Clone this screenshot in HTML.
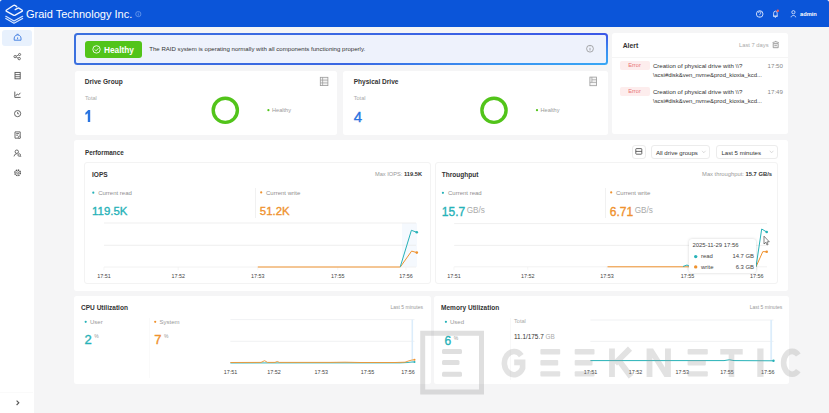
<!DOCTYPE html>
<html><head><meta charset="utf-8"><style>
html,body{margin:0;padding:0;width:829px;height:413px;overflow:hidden;background:#f5f5f6;font-family:"Liberation Sans", sans-serif;}
.t{position:absolute;white-space:nowrap;}
.sb{-webkit-text-stroke:0.35px currentColor;}
.r{position:absolute;}
.ov{position:absolute;left:0;top:0;}
</style></head><body>
<div class="r" style="left:0px;top:0px;width:3px;height:3px;background:#ffffff;border-radius:0px;"></div><div class="r" style="left:826px;top:0px;width:3px;height:3px;background:#ffffff;border-radius:0px;"></div><div class="r" style="left:0px;top:0px;width:829px;height:27.4px;background:#0b55d9;border-radius:0px;border-top-left-radius:2.5px;border-top-right-radius:2.5px;"></div><div class="t " style="left:26.0px;top:9.03px;font-size:11px;line-height:11px;color:#ffffff;font-weight:normal;">Graid Technology Inc.</div><div class="r" style="left:0px;top:27px;width:33.5px;height:386px;background:#ffffff;border-radius:0px;"></div><div class="r" style="left:2px;top:30px;width:30px;height:16px;background:#e8f1fd;border-radius:3px;"></div><div class="r" style="left:74.3px;top:33.2px;width:533.6px;height:31.7px;background:linear-gradient(#eef2fc,#eef2fc) padding-box, radial-gradient(260px 30px at 100% 100%, #38a8f5 0%, rgba(56,168,245,0.7) 45%, rgba(56,168,245,0) 100%) border-box, linear-gradient(to right, #3b70df, #3b66e3 60%, #3c58e7) border-box;border-radius:3.5px;box-sizing:border-box;border:2.6px solid transparent;"></div><div class="r" style="left:85.1px;top:41px;width:57.2px;height:17px;background:#52c41a;border-radius:3px;"></div><div class="t " style="left:104.0px;top:45.63px;font-size:8.3px;line-height:8.3px;color:#ffffff;font-weight:bold;">Healthy</div><div class="t " style="left:149.3px;top:46.29px;font-size:6.07px;line-height:6.07px;color:#333;font-weight:normal;">The RAID system is operating normally with all components functioning properly.</div><div class="r" style="left:74.5px;top:70.5px;width:262.5px;height:64px;background:#ffffff;border-radius:2.5px;"></div><div class="r" style="left:343px;top:70.5px;width:265px;height:64px;background:#ffffff;border-radius:2.5px;"></div><div class="r" style="left:612px;top:33.3px;width:176px;height:101px;background:#ffffff;border-radius:2.5px;"></div><div class="r" style="left:74px;top:140px;width:714px;height:151.3px;background:#ffffff;border-radius:2.5px;"></div><div class="r" style="left:74px;top:296.2px;width:356.8px;height:87.6px;background:#ffffff;border-radius:2.5px;"></div><div class="r" style="left:433.8px;top:296.2px;width:355px;height:87.6px;background:#ffffff;border-radius:2.5px;"></div><div class="t " style="left:84.8px;top:78.94px;font-size:6.55px;line-height:6.55px;color:#333333;font-weight:bold;">Drive Group</div><div class="t " style="left:85.0px;top:95.64px;font-size:5.6px;line-height:5.6px;color:#aaa;font-weight:normal;">Total</div><div class="t " style="left:272.0px;top:108.04px;font-size:5.6px;line-height:5.6px;color:#999;font-weight:normal;">Healthy</div><div class="t " style="left:353.7px;top:79.34px;font-size:6.55px;line-height:6.55px;color:#333333;font-weight:bold;">Physical Drive</div><div class="t " style="left:353.7px;top:95.64px;font-size:5.6px;line-height:5.6px;color:#aaa;font-weight:normal;">Total</div><div class="t sb" style="left:353.8px;top:109.25px;font-size:15.0px;line-height:15.0px;color:#2a74e0;font-weight:normal;">4</div><div class="t " style="left:540.5px;top:108.04px;font-size:5.6px;line-height:5.6px;color:#999;font-weight:normal;">Healthy</div><div class="t " style="left:622.7px;top:42.91px;font-size:6.8px;line-height:6.8px;color:#333333;font-weight:bold;">Alert</div><div class="t " style="right:60.4px;top:43.43px;font-size:5.8px;line-height:5.8px;color:#aaa;font-weight:normal;">Last 7 days</div><div class="r" style="left:612px;top:56.5px;width:176px;height:0.5px;background:#f5f5f5;border-radius:0px;"></div><div class="r" style="left:619.5px;top:60.800000000000004px;width:30px;height:9.2px;background:#fdeded;border-radius:2px;"></div><div class="t " style="left:534.5px;width:200px;text-align:center;top:63.19px;font-size:5.7px;line-height:5.7px;color:#e87474;font-weight:normal;">Error</div><div class="t " style="left:652.9px;top:62.98px;font-size:6.1px;line-height:6.1px;color:#333;font-weight:normal;">Creation of physical drive with \\?</div><div class="t " style="left:653.0px;top:73.26px;font-size:5.95px;line-height:5.95px;color:#333;font-weight:normal;">\scsi#disk&amp;ven_nvme&amp;prod_kioxia_kcd...</div><div class="t " style="right:46.0px;top:62.93px;font-size:6.2px;line-height:6.2px;color:#888;font-weight:normal;">17:50</div><div class="r" style="left:619.5px;top:86.7px;width:30px;height:9.2px;background:#fdeded;border-radius:2px;"></div><div class="t " style="left:534.5px;width:200px;text-align:center;top:89.09px;font-size:5.7px;line-height:5.7px;color:#e87474;font-weight:normal;">Error</div><div class="t " style="left:652.9px;top:88.88px;font-size:6.1px;line-height:6.1px;color:#333;font-weight:normal;">Creation of physical drive with \\?</div><div class="t " style="left:653.0px;top:99.16px;font-size:5.95px;line-height:5.95px;color:#333;font-weight:normal;">\scsi#disk&amp;ven_nvme&amp;prod_kioxia_kcd...</div><div class="t " style="right:46.0px;top:88.83px;font-size:6.2px;line-height:6.2px;color:#888;font-weight:normal;">17:49</div><div class="t " style="left:85.0px;top:149.75px;font-size:6.35px;line-height:6.35px;color:#333333;font-weight:bold;">Performance</div><div class="r" style="left:632px;top:144.6px;width:13.6px;height:14px;background:#fff;border-radius:3px;box-sizing:border-box;border:0.8px solid #ececec;"></div><div class="r" style="left:651px;top:144.6px;width:59px;height:14px;background:#fff;border-radius:3px;box-sizing:border-box;border:0.8px solid #ececec;"></div><div class="r" style="left:716.3px;top:144.6px;width:62px;height:14px;background:#fff;border-radius:3px;box-sizing:border-box;border:0.8px solid #ececec;"></div><div class="t " style="left:655.9px;top:149.58px;font-size:6.1px;line-height:6.1px;color:#333;font-weight:normal;">All drive groups</div><div class="t " style="left:721.4px;top:149.58px;font-size:6.1px;line-height:6.1px;color:#333;font-weight:normal;">Last 5 minutes</div><div class="r" style="left:84.4px;top:162.4px;width:346.3px;height:121.6px;background:#fff;border-radius:3px;box-sizing:border-box;border:0.8px solid #f3f3f3;"></div><div class="r" style="left:434.6px;top:162.4px;width:343.6px;height:121.6px;background:#fff;border-radius:3px;box-sizing:border-box;border:0.8px solid #f3f3f3;"></div><div class="t " style="left:92.0px;top:172.14px;font-size:6.55px;line-height:6.55px;color:#333333;font-weight:bold;">IOPS</div><div class="t " style="right:407.0px;top:171.99px;font-size:5.7px;line-height:5.7px;color:#999;font-weight:normal;">Max IOPS: <b style="color:#333">119.5K</b></div><div class="t " style="left:98.2px;top:189.73px;font-size:6px;line-height:6px;color:#8f8f8f;font-weight:normal;">Current read</div><div class="t " style="left:266.0px;top:189.73px;font-size:6px;line-height:6px;color:#8f8f8f;font-weight:normal;">Current write</div><div class="t sb" style="left:92.1px;top:206.02px;font-size:11.4px;line-height:11.4px;color:#27b2b8;font-weight:normal;">119.5K</div><div class="t sb" style="left:259.8px;top:206.02px;font-size:11.4px;line-height:11.4px;color:#ef922e;font-weight:normal;">51.2K</div><div class="r" style="left:255px;top:187.7px;width:0.5px;height:30.3px;background:#f1f1f1;border-radius:0px;"></div><div class="t " style="left:441.8px;top:171.94px;font-size:6.55px;line-height:6.55px;color:#333333;font-weight:bold;">Throughput</div><div class="t " style="right:57.0px;top:171.93px;font-size:5.8px;line-height:5.8px;color:#999;font-weight:normal;">Max throughput: <b style="color:#333">15.7 GB/s</b></div><div class="t " style="left:448.0px;top:189.73px;font-size:6px;line-height:6px;color:#8f8f8f;font-weight:normal;">Current read</div><div class="t " style="left:616.0px;top:189.73px;font-size:6px;line-height:6px;color:#8f8f8f;font-weight:normal;">Current write</div><div class="t sb" style="left:441.8px;top:205.71px;font-size:12px;line-height:12px;color:#27b2b8;font-weight:normal;">15.7<span style="font-size:8.2px;color:#aaa;margin-left:1.5px;-webkit-text-stroke:0;position:relative;top:-2.3px">GB/s</span></div><div class="t sb" style="left:609.8px;top:205.71px;font-size:12px;line-height:12px;color:#ef922e;font-weight:normal;">6.71<span style="font-size:8.2px;color:#aaa;margin-left:1.5px;-webkit-text-stroke:0;position:relative;top:-2.3px">GB/s</span></div><div class="r" style="left:605px;top:187.7px;width:0.5px;height:30.3px;background:#f1f1f1;border-radius:0px;"></div><div class="t " style="left:81.0px;top:304.64px;font-size:6.55px;line-height:6.55px;color:#333333;font-weight:bold;">CPU Utilization</div><div class="t " style="right:406.0px;top:304.95px;font-size:5px;line-height:5px;color:#999;font-weight:normal;">Last 5 minutes</div><div class="t " style="left:90.0px;top:319.43px;font-size:6px;line-height:6px;color:#999;font-weight:normal;">User</div><div class="t " style="left:159.5px;top:319.43px;font-size:6px;line-height:6px;color:#999;font-weight:normal;">System</div><div class="t sb" style="left:84.5px;top:333.49px;font-size:13px;line-height:13px;color:#27b2b8;font-weight:normal;">2<sup style="font-size:5px;color:#999;vertical-align:top;margin-left:2.5px;position:relative;top:-3.2px;-webkit-text-stroke:0">%</sup></div><div class="t sb" style="left:154.3px;top:333.49px;font-size:13px;line-height:13px;color:#ef922e;font-weight:normal;">7<sup style="font-size:5px;color:#999;vertical-align:top;margin-left:2.5px;position:relative;top:-3.2px;-webkit-text-stroke:0">%</sup></div><div class="r" style="left:148.7px;top:318px;width:0.5px;height:60px;background:#fafafa;border-radius:0px;"></div><div class="t " style="left:441.0px;top:304.54px;font-size:6.55px;line-height:6.55px;color:#333333;font-weight:bold;">Memory Utilization</div><div class="t " style="right:46.7px;top:305.15px;font-size:5px;line-height:5px;color:#999;font-weight:normal;">Last 5 minutes</div><div class="t " style="left:450.0px;top:319.43px;font-size:6px;line-height:6px;color:#999;font-weight:normal;">Used</div><div class="t sb" style="left:444.5px;top:335.01px;font-size:12px;line-height:12px;color:#27b2b8;font-weight:normal;">6<sup style="font-size:5px;color:#999;vertical-align:top;margin-left:2.5px;position:relative;top:-3.2px;-webkit-text-stroke:0">%</sup></div><div class="t " style="left:514.0px;top:319.24px;font-size:5.6px;line-height:5.6px;color:#aaa;font-weight:normal;">Total</div><div class="t " style="left:514.0px;top:334.42px;font-size:6.4px;line-height:6.4px;color:#333;font-weight:normal;"><span style="color:#333">11.1/175.7</span> <span style="color:#aaa">GB</span></div><div class="r" style="left:509.5px;top:318px;width:0.5px;height:62px;background:#f8f8f8;border-radius:0px;"></div><div class="t " style="right:12.2px;top:11.99px;font-size:5.7px;line-height:5.7px;color:#ffffff;font-weight:bold;">admin</div><div class="t " style="left:4.0px;width:200px;text-align:center;top:273.74px;font-size:5.4px;line-height:5.4px;color:#444;font-weight:normal;">17:51</div><div class="t " style="left:78.2px;width:200px;text-align:center;top:273.74px;font-size:5.4px;line-height:5.4px;color:#444;font-weight:normal;">17:52</div><div class="t " style="left:157.8px;width:200px;text-align:center;top:273.74px;font-size:5.4px;line-height:5.4px;color:#444;font-weight:normal;">17:53</div><div class="t " style="left:237.7px;width:200px;text-align:center;top:273.74px;font-size:5.4px;line-height:5.4px;color:#444;font-weight:normal;">17:55</div><div class="t " style="left:306.0px;width:200px;text-align:center;top:273.74px;font-size:5.4px;line-height:5.4px;color:#444;font-weight:normal;">17:56</div><div class="t " style="left:354.0px;width:200px;text-align:center;top:274.04px;font-size:5.4px;line-height:5.4px;color:#444;font-weight:normal;">17:51</div><div class="t " style="left:427.7px;width:200px;text-align:center;top:274.04px;font-size:5.4px;line-height:5.4px;color:#444;font-weight:normal;">17:52</div><div class="t " style="left:506.9px;width:200px;text-align:center;top:274.04px;font-size:5.4px;line-height:5.4px;color:#444;font-weight:normal;">17:53</div><div class="t " style="left:587.4px;width:200px;text-align:center;top:274.04px;font-size:5.4px;line-height:5.4px;color:#444;font-weight:normal;">17:55</div><div class="t " style="left:656.7px;width:200px;text-align:center;top:274.04px;font-size:5.4px;line-height:5.4px;color:#444;font-weight:normal;">17:56</div><div class="t " style="left:130.4px;width:200px;text-align:center;top:370.14px;font-size:5.4px;line-height:5.4px;color:#444;font-weight:normal;">17:51</div><div class="t " style="left:173.9px;width:200px;text-align:center;top:370.14px;font-size:5.4px;line-height:5.4px;color:#444;font-weight:normal;">17:52</div><div class="t " style="left:221.2px;width:200px;text-align:center;top:370.14px;font-size:5.4px;line-height:5.4px;color:#444;font-weight:normal;">17:53</div><div class="t " style="left:267.5px;width:200px;text-align:center;top:370.14px;font-size:5.4px;line-height:5.4px;color:#444;font-weight:normal;">17:55</div><div class="t " style="left:308.0px;width:200px;text-align:center;top:370.14px;font-size:5.4px;line-height:5.4px;color:#444;font-weight:normal;">17:56</div><div class="t " style="left:490.4px;width:200px;text-align:center;top:370.24px;font-size:5.4px;line-height:5.4px;color:#444;font-weight:normal;">17:51</div><div class="t " style="left:535.4px;width:200px;text-align:center;top:370.24px;font-size:5.4px;line-height:5.4px;color:#444;font-weight:normal;">17:52</div><div class="t " style="left:582.3px;width:200px;text-align:center;top:370.24px;font-size:5.4px;line-height:5.4px;color:#444;font-weight:normal;">17:53</div><div class="t " style="left:627.0px;width:200px;text-align:center;top:370.24px;font-size:5.4px;line-height:5.4px;color:#444;font-weight:normal;">17:55</div><div class="t " style="left:667.7px;width:200px;text-align:center;top:370.24px;font-size:5.4px;line-height:5.4px;color:#444;font-weight:normal;">17:56</div>
<svg class="ov" width="829" height="413" viewBox="0 0 829 413"><rect x="402" y="223" width="15" height="44" fill="#f1f7fd" opacity="0.7"/><line x1="104" y1="223" x2="416" y2="223" stroke="#ebebeb" stroke-width="0.8"/><line x1="104" y1="245.3" x2="416" y2="245.3" stroke="#ebebeb" stroke-width="0.8"/><line x1="454.2" y1="223.6" x2="767" y2="223.6" stroke="#ebebeb" stroke-width="0.8"/><line x1="454.2" y1="245.4" x2="767" y2="245.4" stroke="#ebebeb" stroke-width="0.8"/><line x1="230.4" y1="319.6" x2="414.5" y2="319.6" stroke="#eceef0" stroke-width="0.8"/><line x1="230.4" y1="341.3" x2="414.5" y2="341.3" stroke="#eceef0" stroke-width="0.8"/><line x1="590.4" y1="320" x2="773.5" y2="320" stroke="#eceef0" stroke-width="0.8"/><line x1="590.4" y1="341.4" x2="773.5" y2="341.4" stroke="#eceef0" stroke-width="0.8"/><line x1="412.3" y1="319.6" x2="412.3" y2="362.5" stroke="#dcedfb" stroke-width="1.6"/><line x1="771.2" y1="320" x2="771.2" y2="361" stroke="#dcedfb" stroke-width="1.8"/><line x1="104" y1="267" x2="416" y2="267" stroke="#efefef" stroke-width="0.8"/><line x1="104" y1="267" x2="104" y2="270" stroke="#f0f0f0" stroke-width="0.6"/><line x1="178.2" y1="267" x2="178.2" y2="270" stroke="#f0f0f0" stroke-width="0.6"/><line x1="257.8" y1="267" x2="257.8" y2="270" stroke="#f0f0f0" stroke-width="0.6"/><line x1="337.7" y1="267" x2="337.7" y2="270" stroke="#f0f0f0" stroke-width="0.6"/><line x1="406" y1="267" x2="406" y2="270" stroke="#f0f0f0" stroke-width="0.6"/><line x1="454" y1="266.8" x2="454" y2="269.8" stroke="#f0f0f0" stroke-width="0.6"/><line x1="527.7" y1="266.8" x2="527.7" y2="269.8" stroke="#f0f0f0" stroke-width="0.6"/><line x1="606.9" y1="266.8" x2="606.9" y2="269.8" stroke="#f0f0f0" stroke-width="0.6"/><line x1="687.4" y1="266.8" x2="687.4" y2="269.8" stroke="#f0f0f0" stroke-width="0.6"/><line x1="756.7" y1="266.8" x2="756.7" y2="269.8" stroke="#f0f0f0" stroke-width="0.6"/><line x1="454.2" y1="266.8" x2="767" y2="266.8" stroke="#efefef" stroke-width="0.8"/><line x1="230.4" y1="362.5" x2="414.5" y2="362.5" stroke="#eee" stroke-width="0.8"/><path d="M85.2,112.9 L88.2,110.1 L90.2,110.1 L90.2,121.9 L87.8,121.9 L87.8,113.2 L85.6,115 Z" fill="#2a74e0"/><circle cx="225.3" cy="110.3" r="12.1" fill="none" stroke="#52c41a" stroke-width="3.4"/><circle cx="494" cy="110.3" r="12.1" fill="none" stroke="#52c41a" stroke-width="3.4"/><circle cx="268.4" cy="110.2" r="1.1" fill="#52c41a"/><circle cx="537" cy="110.2" r="1.1" fill="#52c41a"/><circle cx="93.3" cy="192.7" r="1.1" fill="#27b2b8"/><circle cx="261.2" cy="192.4" r="1.1" fill="#ef922e"/><circle cx="442.9" cy="192.8" r="1.1" fill="#27b2b8"/><circle cx="611.2" cy="192.4" r="1.1" fill="#ef922e"/><circle cx="85.7" cy="321.8" r="1.1" fill="#27b2b8"/><circle cx="155.2" cy="321.8" r="1.1" fill="#ef922e"/><circle cx="445.9" cy="321.8" r="1.1" fill="#27b2b8"/><polyline points="257.8,267 400.3,267 411.6,251.1 416.8,252.6" fill="none" stroke="#ef922e" stroke-width="1"/><polyline points="400.3,266.7 411.4,230.3 416.8,232.3" fill="none" stroke="#27b2b8" stroke-width="1"/><circle cx="416.8" cy="232.3" r="1.3" fill="#27b2b8"/><circle cx="416.8" cy="252.6" r="1.3" fill="#ef922e"/><polyline points="607.5,266.8 756,266.8 762.8,251.6 766.7,251.8" fill="none" stroke="#ef922e" stroke-width="1"/><polyline points="683,266.5 687,265 690,266.5 756,266.8 761.7,229 766.7,232" fill="none" stroke="#27b2b8" stroke-width="1"/><circle cx="766.7" cy="232" r="1.3" fill="#27b2b8"/><circle cx="766.7" cy="251.8" r="1.3" fill="#ef922e"/><polyline points="230.4,363 300,362.9 400,362.9 408,362.5 411,362.1 414.5,361.9" fill="none" stroke="#27b2b8" stroke-width="0.9"/><polyline points="230.4,362.5 261,362.4 264.6,360.7 267.5,362.4 275,362.4 277.2,361.5 279.5,362.4 330,362.4 345,362.2 360,362.5 395,362.5 405,362.2 409,360.8 412,360 414.5,359.8" fill="none" stroke="#ef922e" stroke-width="0.9"/><circle cx="414.5" cy="361.9" r="1" fill="#27b2b8"/><circle cx="414.5" cy="359.8" r="1" fill="#ef922e"/><polyline points="590.4,360.6 724,360.6 729.4,359.8 734,360.6 773.5,360.8" fill="none" stroke="#27b2b8" stroke-width="1"/><circle cx="773.5" cy="360.8" r="1.2" fill="#27b2b8"/><path d="M16.7,6.65 L15.2,5.5 Q14.3,4.9 13.4,5.5 L6.6,10 Q5.6,10.7 6.6,11.4 L13.4,15.1 Q14.3,15.7 15.2,15.1 L21.9,11.4 Q22.9,10.7 21.9,10 L19.3,8.3 Q18.4,7.8 17.5,8.3 L15.2,9.6" fill="none" stroke="#f2f6ff" stroke-width="1.4" stroke-linecap="round" stroke-linejoin="round"/><polyline points="5.8,16.3 14.0,21.1 22.6,16.3" fill="none" stroke="#d6e6ff" stroke-width="1.2" stroke-linecap="round" stroke-linejoin="round"/><polyline points="5.8,18.400000000000002 14.0,23.200000000000003 22.6,18.400000000000002" fill="none" stroke="#d6e6ff" stroke-width="1.2" stroke-linecap="round" stroke-linejoin="round"/><circle cx="138.3" cy="14.1" r="2.6" fill="none" stroke="#7aa6f0" stroke-width="0.7"/><line x1="138.3" y1="13.4" x2="138.3" y2="15.6" stroke="#7aa6f0" stroke-width="0.7"/><circle cx="138.3" cy="12.5" r="0.35" fill="#7aa6f0"/><circle cx="759.7" cy="14" r="3.3" fill="none" stroke="#e8efff" stroke-width="0.85"/><path d="M758.5,12.9 Q758.6,11.6 759.8,11.6 Q761,11.7 760.9,12.8 Q760.8,13.6 759.8,14.1 L759.8,14.9" fill="none" stroke="#e8efff" stroke-width="0.75"/><circle cx="759.8" cy="16.2" r="0.45" fill="#e8efff"/><path d="M773.6,16.2 L773.6,13.2 Q773.7,11.2 775.4,11.1 Q777.1,11.2 777.2,13.2 L777.2,16.2 Z M773.1,16.2 L777.7,16.2 M774.8,17.3 L776,17.3" fill="none" stroke="#e8efff" stroke-width="0.8" stroke-linejoin="round"/><circle cx="777.8" cy="10.7" r="1.2" fill="#ff5a4f"/><circle cx="793.4" cy="12.2" r="1.6" fill="none" stroke="#e8efff" stroke-width="0.8"/><path d="M791.1,17.3 C791.1,14.9 795.7,14.9 795.7,17.3" fill="none" stroke="#e8efff" stroke-width="0.8"/><circle cx="96.5" cy="49.4" r="3.7" fill="none" stroke="#ffffff" stroke-width="0.85"/><polyline points="94.8,49.5 96.1,50.8 98.3,48.3" fill="none" stroke="#fff" stroke-width="0.85"/><circle cx="590" cy="48.7" r="3.4" fill="none" stroke="#888" stroke-width="0.7"/><line x1="590" y1="48" x2="590" y2="50.5" stroke="#888" stroke-width="0.7"/><circle cx="590" cy="46.8" r="0.4" fill="#888"/><path d="M14.2,40.2 Q13.6,35.2 17.6,34.9 Q21.6,35.2 21,40.2 Z" fill="none" stroke="#3a78e0" stroke-width="0.9" stroke-linejoin="round"/><line x1="17.6" y1="37.4" x2="17.6" y2="39.2" stroke="#3a78e0" stroke-width="0.9"/><line x1="16.6" y1="34.3" x2="18.6" y2="34.3" stroke="#3a78e0" stroke-width="0.8"/><circle cx="15.1" cy="56.6" r="1.15" fill="none" stroke="#555" stroke-width="0.85"/><circle cx="19.6" cy="54.5" r="1.05" fill="none" stroke="#555" stroke-width="0.85"/><circle cx="19.2" cy="58.6" r="1.2" fill="none" stroke="#555" stroke-width="0.85"/><path d="M16.2,56.1 L18.6,55 M16.2,57.1 L18.1,58.1" stroke="#555" stroke-width="0.75"/><rect x="15" y="72.4" width="5.2" height="6.4" fill="none" stroke="#555" stroke-width="0.9"/><path d="M15,74.6 L20.2,74.6 M15,76.7 L20.2,76.7" stroke="#555" stroke-width="0.8"/><path d="M14.8,91.6 L14.8,97.4 L20.6,97.4 M15.6,96 L17.3,94 L18.5,95 L20.4,92.8" fill="none" stroke="#555" stroke-width="0.9"/><circle cx="17.6" cy="113.6" r="3.1" fill="none" stroke="#555" stroke-width="0.9"/><polyline points="17.6,111.9 17.6,113.8 19,113.8" fill="none" stroke="#555" stroke-width="0.8"/><path d="M15,131.9 L20.2,131.9 L20.2,138.2 L15,138.2 Z M16.2,133.6 L19,133.6 M16.2,135.2 L18,135.2" fill="none" stroke="#555" stroke-width="0.85"/><circle cx="19.3" cy="137.2" r="1.1" fill="#fff" stroke="#555" stroke-width="0.7"/><circle cx="16.8" cy="151.7" r="1.7" fill="none" stroke="#555" stroke-width="0.85"/><path d="M14,156.4 Q14.4,153.8 16.8,153.7" fill="none" stroke="#555" stroke-width="0.85"/><circle cx="19.2" cy="155" r="1.3" fill="none" stroke="#555" stroke-width="0.8"/><line x1="20.1" y1="155.9" x2="21.1" y2="156.9" stroke="#555" stroke-width="0.8"/><circle cx="17.6" cy="172.8" r="2.7" fill="none" stroke="#555" stroke-width="1.5" stroke-dasharray="1.4 0.7"/><circle cx="17.6" cy="172.8" r="1" fill="none" stroke="#555" stroke-width="0.7"/><line x1="0" y1="392.6" x2="33" y2="392.6" stroke="#f5f5f5" stroke-width="0.6"/><polyline points="16.6,400.6 18.8,402.8 16.6,405" fill="none" stroke="#555" stroke-width="1.15"/><rect x="320.3" y="77.3" width="7.6" height="8.3" fill="#f4f4f4" stroke="#9a9a9a" stroke-width="0.8"/><path d="M320.3,80.1 L327.9,80.1 M320.3,82.9 L327.9,82.9 M322.6,77.3 L322.6,85.6" stroke="#9a9a9a" stroke-width="0.7"/><rect x="589.9" y="77.1" width="6.6" height="8.6" fill="#f6f6f6" stroke="#9a9a9a" stroke-width="0.8"/><path d="M589.9,82.4 L596.5,82.4 M591.9,77.1 L591.9,82.4 M591.9,79.8 L596.5,79.8" stroke="#9a9a9a" stroke-width="0.7"/><path d="M773.2,43.4 L778.2,43.4 L778.2,47.7 L773.2,47.7 Z" fill="#eeeeee" stroke="#8a8a8a" stroke-width="0.75"/><path d="M772.5,42.6 L775.7,41.6 L778.9,42.6 M775.7,40.9 L775.7,41.8 M774.4,45.4 L776.9,45.4" fill="none" stroke="#8a8a8a" stroke-width="0.7"/><rect x="635.8" y="148.6" width="6" height="5.6" fill="none" stroke="#444" stroke-width="0.8" rx="0.6"/><line x1="635.8" y1="151.4" x2="641.8" y2="151.4" stroke="#444" stroke-width="0.8"/><polyline points="702,150.8 703.8,152.8 705.6,150.8" fill="none" stroke="#c4c4c4" stroke-width="0.6"/><polyline points="769.8,150.8 771.6,152.8 773.4,150.8" fill="none" stroke="#c4c4c4" stroke-width="0.6"/></svg>
<div class="r" style="left:688.7px;top:239.2px;width:67.6px;height:33.8px;background:#fff;border-radius:3px;box-shadow:0 0 3px rgba(0,0,0,0.18);"></div><div class="t" style="left:692.4px;top:242.88px;font-size:5.9px;line-height:5.9px;color:#444;font-weight:normal;">2025-11-29 17:56</div><div class="t" style="left:701.0px;top:254.28px;font-size:5.9px;line-height:5.9px;color:#444;font-weight:normal;">read</div><div class="t" style="right:75.0px;top:254.28px;font-size:5.9px;line-height:5.9px;color:#444;font-weight:normal;">14.7 GB</div><div class="t" style="left:701.0px;top:264.58px;font-size:5.9px;line-height:5.9px;color:#444;font-weight:normal;">write</div><div class="t" style="right:75.0px;top:264.58px;font-size:5.9px;line-height:5.9px;color:#444;font-weight:normal;">6.3 GB</div>
<svg class="ov" width="829" height="413" viewBox="0 0 829 413"><circle cx="695.7" cy="256.6" r="1.7" fill="#27b2b8"/><circle cx="695.7" cy="266.9" r="1.7" fill="#ef922e"/><path d="M764,236.2 L764,244 L765.8,242.3 L767,245 L768.1,244.5 L766.9,241.9 L769.3,241.8 Z" fill="#fff" stroke="#333" stroke-width="0.6" stroke-linejoin="round"/><path d="M420.2,330.8 H484 V394.6 H420.2 Z M425.2,335.8 V389.6 H479 V335.8 Z" fill="rgba(150,150,150,0.30)" fill-rule="evenodd"/><rect x="442" y="349.1" width="20" height="5" rx="1.5" fill="rgba(150,150,150,0.30)"/><rect x="442" y="360" width="17.5" height="5" rx="1.5" fill="rgba(150,150,150,0.30)"/><rect x="442" y="371.7" width="20" height="5" rx="1.5" fill="rgba(150,150,150,0.30)"/><g fill="#969696" stroke="#969696" opacity="0.27"><path d="M521.3,355.6 A9.6,11.6 0 1 0 522.6,368.2 L522.6,362.4 L514.2,362.4" fill="none" stroke-width="5.6"/><rect x="540.4" y="349.1" width="19.800000000000068" height="5.3" rx="1" stroke="none"/><rect x="540.4" y="360.1" width="17.800000000000068" height="5.3" rx="1" stroke="none"/><rect x="540.4" y="371.2" width="19.800000000000068" height="5.3" rx="1" stroke="none"/><rect x="574.7" y="349.1" width="19.799999999999955" height="5.3" rx="1" stroke="none"/><rect x="574.7" y="360.1" width="17.799999999999955" height="5.3" rx="1" stroke="none"/><rect x="574.7" y="371.2" width="19.799999999999955" height="5.3" rx="1" stroke="none"/><rect x="687.6" y="349.1" width="20.199999999999932" height="5.3" rx="1" stroke="none"/><rect x="687.6" y="360.1" width="18.199999999999932" height="5.3" rx="1" stroke="none"/><rect x="687.6" y="371.2" width="20.199999999999932" height="5.3" rx="1" stroke="none"/><path d="M612,348.4 V376.9 M630,348.6 L615,363.5 M618.5,360 L631,376.8" fill="none" stroke-width="5.8"/><polygon stroke="none" points="646.6,376.9 646.6,348.4 653,348.4 665,367.5 665,348.4 670.9,348.4 670.9,376.9 664.5,376.9 652.4,357.8 652.4,376.9"/><path d="M720.3,351.8 H742.7 M731.5,349 V376.9" fill="none" stroke-width="5.6"/><path d="M760.4,348.5 V376.9" fill="none" stroke-width="6.2"/><path d="M798.3,355 A8.5,11.4 0 1 0 798.3,370.6" fill="none" stroke-width="5.6"/></g></svg>
</body></html>
